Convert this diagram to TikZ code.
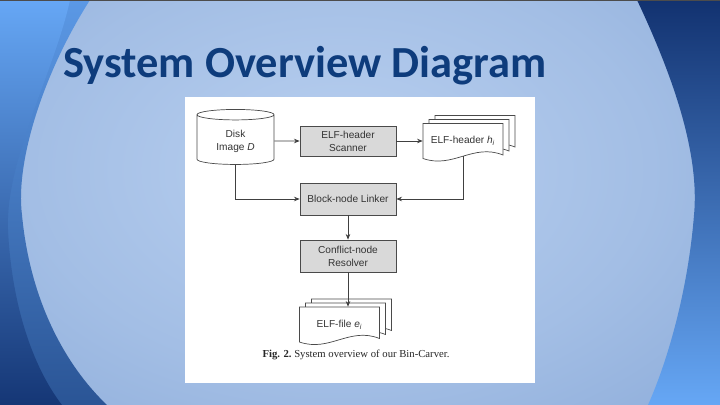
\documentclass[tikz,border=0pt]{standalone}
\usepackage{fontspec}
\setmainfont{Liberation Sans}
\newfontfamily\titlefont{Carlito}
\newfontfamily\capfont{Liberation Serif}
\usepackage{tikz}
\usetikzlibrary{shapes.geometric, arrows.meta, positioning, calc}

\definecolor{titleblue}{HTML}{0E3C7C}
\definecolor{slidelight}{HTML}{B9D0F0}
\definecolor{slidemid}{HTML}{6E93CA}
\definecolor{edgedark}{HTML}{123270}
\definecolor{edgemid}{HTML}{2F5EA6}
\definecolor{edgelight}{HTML}{66A7F5}
\definecolor{boxgray}{HTML}{D9D9D9}
\definecolor{linegray}{HTML}{4A4A4A}

\pgfdeclareradialshading{slidebg}{\pgfpoint{0bp}{0bp}}{%
  color(0bp)=(slidelight); color(18bp)=(slidelight!70!slidemid); color(50bp)=(slidemid)}

% stack of three pages with a wavy bottom, drawn round a coordinate
\newcommand{\pagestack}[1]{%
  \foreach \k in {2,1,0}{%
    \draw[docpage] ([shift={(-40+6*\k,-17.5-4*\k)}]#1) -- ([shift={(40+6*\k,-17.5-4*\k)}]#1)
      -- ([shift={(40+6*\k,14-4*\k)}]#1)
      .. controls ([shift={(10+6*\k,2-4*\k)}]#1) and ([shift={(-10+6*\k,28-4*\k)}]#1)
      .. ([shift={(-40+6*\k,17.5-4*\k)}]#1) -- cycle;
  }%
}

\begin{document}
\begin{tikzpicture}[x=0.025cm, y=-0.025cm,
        block/.style={rectangle, draw=linegray, fill=boxgray, line width=0.5pt, minimum width=2.4cm, minimum height=0.8cm, align=center, text=black!80, font=\fontsize{7.2}{9.2}\selectfont},
        disk/.style={cylinder, shape border rotate=90, aspect=0.22, draw=linegray, fill=white, line width=0.5pt, minimum width=1.925cm, minimum height=1.375cm, align=center, text=black!80, font=\fontsize{7.2}{9.2}\selectfont},
        docpage/.style={draw=linegray, fill=white, line width=0.5pt},
        doctext/.style={minimum width=2cm, minimum height=0.875cm, inner sep=0pt, text=black!80, font=\fontsize{7.2}{9.2}\selectfont},
        arrow/.style={-{Stealth[length=4pt, width=3.2pt]}, draw=black!75, line width=0.5pt}
    ]
        \useasboundingbox (0,0) rectangle (720,405);

        % Slide background
        \shade[shading=slidebg] (-100,-120) rectangle (780,460);
        \shade[top color=edgedark, middle color=edgemid, bottom color=edgelight]
            (637,0) .. controls (670,70) and (700,150) .. (694,215)
            .. controls (688,290) and (668,360) .. (648,405) -- (720,405) -- (720,0) -- cycle;
        \shade[top color=edgelight!80!edgemid, bottom color=edgemid!90!black]
            (0,0) -- (90,0) .. controls (45,70) and (15,160) .. (22,215)
            .. controls (30,300) and (65,365) .. (107,405) -- (0,405) -- cycle;
        \shade[top color=edgelight, middle color=edgemid!80!black, bottom color=edgedark!90!edgemid]
            (0,0) -- (70,0) .. controls (55,70) and (5,160) .. (8,230)
            .. controls (12,310) and (35,370) .. (62,405) -- (0,405) -- cycle;
        \draw[gray!60!black, line width=0.6pt] (0,0) -- (720,0);
        \draw[gray!60!black, line width=0.6pt] (0,405) -- (720,405);

        % Title
        \node[anchor=base west, inner sep=0pt, text=titleblue, font=\titlefont\bfseries\fontsize{31.6}{38}\selectfont] (title) at (63,78) {System Overview Diagram};

        % Figure panel
        \fill[white] (185,97) rectangle (535,383);

        % Nodes
        \node[disk] (disk) at (235.5,141) {Disk\\Image \textit{D}};
        \node[block, minimum height=0.75cm] (scanner) at (348,141) {ELF-header\\Scanner};
        \coordinate (hdrc) at (463,141);
        \pagestack{hdrc}
        \node[doctext, minimum height=0.75cm] (header) at (hdrc) {ELF-header \textit{h}\textsubscript{\textit{i}}};
        \node[block] (linker) at (348,199) {Block-node Linker};
        \node[block] (resolver) at (348,256) {Conflict-node\\Resolver};
        \coordinate (filec) at (339.5,324.5);
        \pagestack{filec}
        \node[doctext] (elffile) at (filec) {ELF-file \textit{e}\textsubscript{\textit{i}}};
        \node[font=\capfont\fontsize{7.6}{9}\selectfont, text=black!85] (caption) at (356,355) {\textbf{Fig. 2.}\ System overview of our Bin-Carver.};

        % Connectors
        \draw[arrow] (disk) -- (scanner);
        \draw[arrow] (scanner) -- (header);
        \draw[arrow] (disk.south) |- (linker.west);
        \draw[arrow] (header.south) |- (linker.east);
        \draw[arrow] (linker) -- (resolver);
        \draw[arrow] (resolver.south) -- (resolver.south |- elffile.north);
    \end{tikzpicture}
\end{document}
